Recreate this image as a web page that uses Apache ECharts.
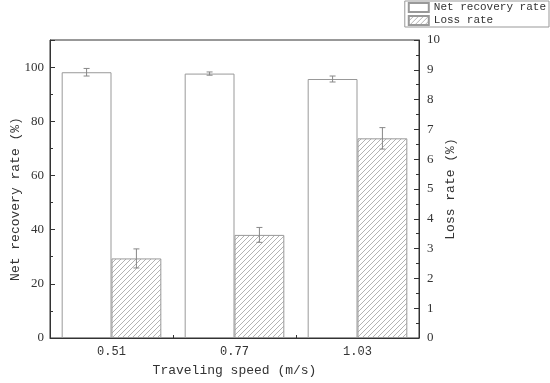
<!DOCTYPE html>
<html><head><meta charset="utf-8">
<script src="https://cdn.jsdelivr.net/npm/echarts@6/dist/echarts.min.js"></script>
<style>html,body{margin:0;padding:0;background:#fff}#c{width:550px;height:383px}</style>
</head><body><div id="c"></div>
<script>
const categories = ['0.51', '0.77', '1.03'];
const netRecovery = [98.1, 97.6, 95.6];
const netRecoveryErr = [1.4, 0.6, 1.1];
const lossRate = [2.67, 3.46, 6.70];
const lossRateErr = [0.32, 0.25, 0.36];
const leftTicks = [0, 20, 40, 60, 80, 100];
const rightTicks = [0, 1, 2, 3, 4, 5, 6, 7, 8, 9, 10];

const FONT = '"Liberation Mono", monospace';
const SERIF = '"Liberation Serif", serif';
const AX = '#333';
const BAR_W = 0.405;

function hatch() {
  const s = 5;
  const c = document.createElement('canvas');
  c.width = s; c.height = s;
  const g = c.getContext('2d');
  g.fillStyle = '#fff'; g.fillRect(0, 0, s, s);
  g.strokeStyle = '#aaa'; g.lineWidth = 0.9;
  g.beginPath();
  g.moveTo(0, s); g.lineTo(s, 0);
  g.moveTo(-s, s); g.lineTo(s, -s);
  g.moveTo(0, 2 * s); g.lineTo(2 * s, 0);
  g.stroke();
  return c;
}

function errSeries(vals, errs, axisIdx, side) {
  return {
    type: 'custom', yAxisIndex: axisIdx, silent: true, z: 10,
    data: vals.map((v, i) => [i, v, errs[i]]),
    renderItem: function (params, api) {
      const i = api.value(0), v = api.value(1), e = api.value(2);
      const cw = api.size([1, 0])[0];
      const off = side * cw * BAR_W / 2;
      const top = api.coord([i, v + e]);
      const bot = api.coord([i, v - e]);
      const x = top[0] + off;
      const cap = 3;
      const st = { stroke: '#888', lineWidth: 1 };
      return { type: 'group', children: [
        { type: 'line', shape: { x1: x, y1: top[1], x2: x, y2: bot[1] }, style: st },
        { type: 'line', shape: { x1: x - cap, y1: top[1], x2: x + cap, y2: top[1] }, style: st },
        { type: 'line', shape: { x1: x - cap, y1: bot[1], x2: x + cap, y2: bot[1] }, style: st }
      ]};
    }
  };
}

const chart = echarts.init(document.getElementById('c'));
chart.setOption({
  animation: false,
  textStyle: { fontFamily: FONT },
  legend: {
    right: 1, top: 1, orient: 'vertical', itemGap: 2, icon: 'rect',
    itemWidth: 20, itemHeight: 9,
    borderColor: '#999', borderWidth: 1, padding: [1, 3, 1, 3],
    textStyle: { fontFamily: FONT, fontSize: 11, color: '#333' },
    data: ['Net recovery rate', 'Loss rate']
  },
  grid: { left: 50, right: 131, top: 40, bottom: 45, show: true, borderColor: AX, borderWidth: 1,
    outerBoundsMode: 'none', containLabel: false },
  xAxis: {
    type: 'category', data: categories,
    name: 'Traveling speed (m/s)', nameLocation: 'middle', nameGap: 26,
    nameTextStyle: { fontFamily: FONT, fontSize: 13, color: '#333' },
    axisLine: { lineStyle: { color: AX } },
    axisTick: { show: true, alignWithLabel: false, inside: true, length: 3, lineStyle: { color: AX } },
    axisLabel: { fontFamily: FONT, fontSize: 12, color: '#333', margin: 8 }
  },
  yAxis: [{
    type: 'value', min: 0, max: 110, interval: 20,
    name: 'Net recovery rate (%)', nameLocation: 'middle', nameGap: 28, nameMoveOverlap: false,
    nameTextStyle: { fontFamily: FONT, fontSize: 13, color: '#333', padding: [0, 20, 0, 0] },
    axisLine: { show: true, lineStyle: { color: AX } },
    axisTick: { show: true, inside: true, length: 5, lineStyle: { color: AX } },
    minorTick: { show: true, splitNumber: 2, length: 3, lineStyle: { color: AX } },
    splitLine: { show: false },
    axisLabel: { fontFamily: SERIF, fontSize: 13, color: '#333', margin: 6,
      formatter: v => leftTicks.includes(v) ? String(v) : '' }
  }, {
    type: 'value', min: 0, max: 10, interval: 1, position: 'right',
    name: 'Loss rate (%)', nameLocation: 'middle', nameGap: 25, nameRotate: 90, nameMoveOverlap: false,
    nameTextStyle: { fontFamily: FONT, fontSize: 13, color: '#333' },
    axisLine: { show: true, lineStyle: { color: AX } },
    axisTick: { show: true, inside: true, length: 5, lineStyle: { color: AX } },
    minorTick: { show: true, splitNumber: 2, length: 3, lineStyle: { color: AX } },
    splitLine: { show: false },
    axisLabel: { fontFamily: SERIF, fontSize: 13, color: '#333', margin: 8,
      formatter: v => rightTicks.includes(v) ? String(v) : '' }
  }],
  series: [{
    name: 'Net recovery rate', type: 'bar', yAxisIndex: 0, data: netRecovery,
    barWidth: (BAR_W * 100) + '%', barGap: '0%',
    itemStyle: { color: '#fff', borderColor: '#999', borderWidth: 1 }
  }, {
    name: 'Loss rate', type: 'bar', yAxisIndex: 1, data: lossRate,
    barWidth: (BAR_W * 100) + '%', barGap: '0%',
    itemStyle: { color: { image: hatch(), repeat: 'repeat' }, borderColor: '#999', borderWidth: 1 }
  },
  errSeries(netRecovery, netRecoveryErr, 0, -1),
  errSeries(lossRate, lossRateErr, 1, 1)
  ]
});
</script></body></html>
